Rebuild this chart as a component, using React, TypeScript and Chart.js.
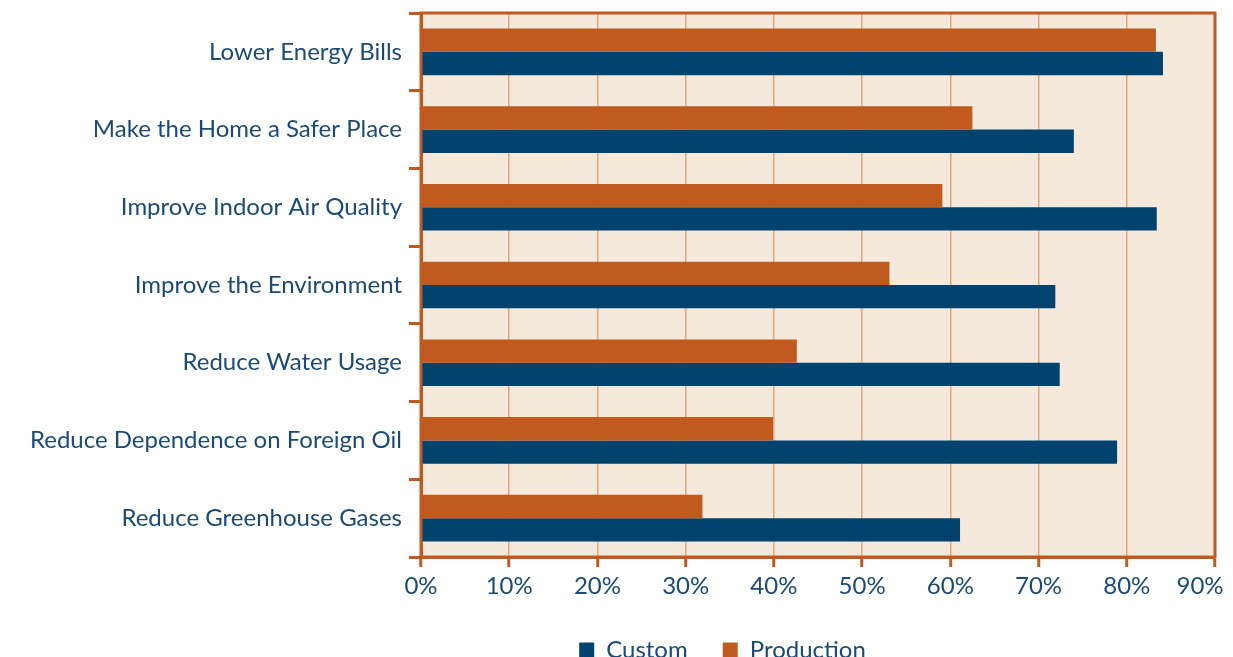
import React, { useEffect, useRef } from "react";
import { Chart, registerables } from "chart.js";

Chart.register(...registerables);

const categories = [
  "Lower Energy Bills",
  "Make the Home a Safer Place",
  "Improve Indoor Air Quality",
  "Improve the Environment",
  "Reduce Water Usage",
  "Reduce Dependence on Foreign Oil",
  "Reduce Greenhouse Gases",
];
const customValues = [84.1, 74.0, 83.4, 71.9, 72.4, 78.9, 61.1];
const productionValues = [83.3, 62.5, 59.1, 53.1, 42.6, 39.9, 31.9];
const xTicks = [0, 10, 20, 30, 40, 50, 60, 70, 80, 90];

const BLUE = "#00436f";
const ORANGE = "#c05a1e";
const TEXT = "#1b4b75";
const BG = "#f5e9dc";
const GRID = "#dfa87c";
const FONT = "Lato, 'Open Sans', sans-serif";
const FS = 24;

const framePlugin = {
  id: "frame",
  afterLayout(chart: any) {
    const lg = chart.legend;
    if (lg) {
      lg.left += 115;
      lg.right += 115;
    }
  },
  beforeDraw(chart: any) {
    const { ctx, chartArea: a } = chart;
    ctx.save();
    ctx.fillStyle = BG;
    ctx.fillRect(a.left, a.top, a.right - a.left, a.bottom - a.top);
    ctx.restore();
    // keep the last x tick label inside the canvas
    const xs = chart.scales.x;
    const items = xs.getLabelItems(chart.chartArea);
    const last = items[items.length - 1];
    if (last && !last.__shifted) {
      last.options.translation[0] -= 15;
      last.__shifted = true;
    }
  },
  afterDatasetsDraw(chart: any) {
    const { ctx, chartArea: a } = chart;
    ctx.save();
    ctx.strokeStyle = ORANGE;
    ctx.lineWidth = 3;
    ctx.strokeRect(a.left, a.top, a.right - a.left, a.bottom - a.top);
    ctx.restore();
  },
};

export default function App() {
  const ref = useRef<HTMLCanvasElement | null>(null);
  useEffect(() => {
    if (!ref.current) return;
    const chart = new Chart(ref.current, {
      type: "bar",
      data: {
        labels: categories,
        datasets: [
          {
            label: "Production",
            data: productionValues,
            backgroundColor: ORANGE,
            categoryPercentage: 0.6,
            barPercentage: 1.0,
          },
          {
            label: "Custom",
            data: customValues,
            backgroundColor: BLUE,
            categoryPercentage: 0.6,
            barPercentage: 1.0,
          },
        ],
      },
      options: {
        indexAxis: "y",
        animation: false,
        responsive: true,
        maintainAspectRatio: false,
        layout: { padding: { top: 13, right: 18, left: 0, bottom: -15 } },
        plugins: {
          tooltip: { enabled: false },
          legend: {
            position: "bottom",
            reverse: true,
            labels: {
              color: TEXT,
              font: { family: FONT, size: FS },
              boxWidth: 15,
              boxHeight: 15,
              padding: 35,
            },
          },
        },
        scales: {
          x: {
            min: 0,
            max: 90,
            afterBuildTicks(scale: any) {
              scale.ticks = xTicks.map((v) => ({ value: v }));
            },
            afterFit(scale: any) {
              scale.height = 46;
              scale.paddingLeft = 0;
              scale.paddingRight = 0;
            },
            ticks: {
              color: TEXT,
              font: { family: FONT, size: FS },
              padding: 5,
              maxRotation: 0,
              callback: (v: any) => v + "%",
            },
            grid: {
              color: GRID,
              lineWidth: 1.5,
              tickColor: ORANGE,
              tickWidth: 3,
              tickLength: 10,
            },
            border: { display: true, color: ORANGE, width: 3 },
          },
          y: {
            afterFit(scale: any) {
              scale.width = 421;
              scale.paddingTop = 0;
              scale.paddingBottom = 0;
            },
            ticks: {
              color: TEXT,
              font: { family: FONT, size: FS },
              padding: 7,
            },
            grid: {
              offset: true,
              drawOnChartArea: false,
              tickColor: ORANGE,
              tickWidth: 3,
              tickLength: 12,
            },
            border: { display: true, color: ORANGE, width: 3 },
          },
        },
      },
      plugins: [framePlugin],
    });
    return () => chart.destroy();
  }, []);
  return (
    <div style={{ position: "fixed", left: 0, top: 0, width: 1233, height: 657 }}>
      <canvas ref={ref} />
    </div>
  );
}
